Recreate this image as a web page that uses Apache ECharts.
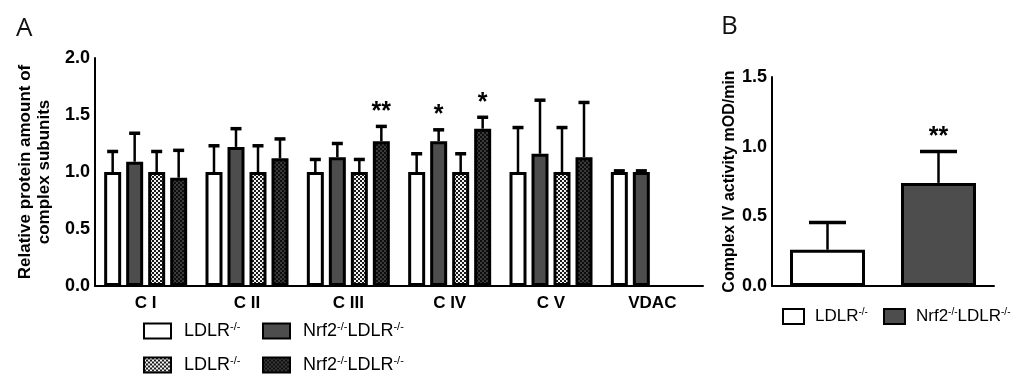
<!DOCTYPE html>
<html><head><meta charset="utf-8">
<script src="https://cdn.jsdelivr.net/npm/echarts@6/dist/echarts.min.js"></script>
<style>html,body{margin:0;padding:0;background:#fff}#c{width:1023px;height:383px}</style>
</head><body><div id="c"></div>
<script>
// ---------- data ----------
const categoriesA = ['C I', 'C II', 'C III', 'C IV', 'C V', 'VDAC'];
const ldlrA      = [1.00, 1.00, 1.00, 1.00, 1.00, 1.00];
const ldlrSdA    = [0.18, 0.23, 0.11, 0.16, 0.39, 0.01];
const nrf2A      = [1.09, 1.22, 1.13, 1.27, 1.16, 1.00];
const nrf2SdA    = [0.25, 0.16, 0.12, 0.10, 0.47, 0.01];
const ldlr2A     = [1.00, 1.00, 1.00, 1.00, 1.00, null];
const ldlr2SdA   = [0.18, 0.23, 0.11, 0.16, 0.39, null];
const nrf22A     = [0.95, 1.12, 1.27, 1.38, 1.13, null];
const nrf22SdA   = [0.24, 0.17, 0.13, 0.10, 0.48, null];
const sigA1 = ['', '', '', '', '', ''];
const sigA2 = ['', '', '', '*', '', ''];
const sigA3 = ['', '', '', '', '', ''];
const sigA4 = ['', '', '**', '*', '', ''];
const ticksA = ['0.0', '0.5', '1.0', '1.5', '2.0'];
const yNameA = 'Relative protein amount of\ncomplex subunits';

const categoriesB = ['LDLR-/-', 'Nrf2-/-LDLR-/-'];
const activityB   = [0.26, 0.74];
const activitySdB = [0.195, 0.226];
const sigB = ['', '**'];
const ticksB = ['0.0', '0.5', '1.0', '1.5'];
const yNameB = 'Complex IV activity mOD/min';

const legendLabels = {
  A1: '{n|LDLR}{s|-/-}', A2: '{n|Nrf2}{s|-/-}{n|LDLR}{s|-/-}',
  A3: '{n|LDLR}{s|-/-}', A4: '{n|Nrf2}{s|-/-}{n|LDLR}{s|-/-}',
  B1: '{n|LDLR}{s|-/-}', B2: '{n|Nrf2}{s|-/-}{n|LDLR}{s|-/-}'
};

// ---------- styles ----------
function checker(c1, c2, cell) {
  const cv = document.createElement('canvas');
  cv.width = cell * 2; cv.height = cell * 2;
  const g = cv.getContext('2d');
  g.fillStyle = c2; g.fillRect(0, 0, cell * 2, cell * 2);
  g.fillStyle = c1; g.fillRect(0, 0, cell, cell); g.fillRect(cell, cell, cell, cell);
  return { image: cv, repeat: 'repeat' };
}
const FONT = '"Liberation Sans", Arial, sans-serif';
const fillWhite = '#ffffff';
const fillDark = '#4d4d4d';
const fillCheck = checker('#1a1a1a', '#f2f2f2', 2);
const fillDarkCheck = checker('#0d0d0d', '#3a3a3a', 2);
const BW_A = 17, GAP_A = 5, CAP_A = 11;
const BW_B = 75, CAP_B = 37;

function barItemStyle(color) {
  return { color: color, borderColor: '#000', borderWidth: 3 };
}

function errRender(idx, n, bw, gap, cap, sig) {
  return function (params, api) {
    const ci = api.value(0), m = api.value(1), sd = api.value(2);
    const base = api.coord([ci, m]);
    const top = api.coord([ci, m + sd]);
    const cx = base[0] + (idx - (n - 1) / 2) * (bw + gap);
    const children = [
      { type: 'line', shape: { x1: cx, y1: base[1], x2: cx, y2: top[1] }, style: { stroke: '#000', lineWidth: 2.5 } },
      { type: 'line', shape: { x1: cx - cap / 2, y1: top[1], x2: cx + cap / 2, y2: top[1] }, style: { stroke: '#000', lineWidth: 3.5 } }
    ];
    const s = sig[ci];
    if (s) {
      children.push({ type: 'text', x: cx, y: top[1] - 2,
        style: { text: s, fontSize: 25, fontWeight: 'bold', fontFamily: FONT, align: 'center', verticalAlign: 'bottom', fill: '#000' } });
    }
    return { type: 'group', children: children };
  };
}
function errData(means, sds) {
  const out = [];
  means.forEach((m, i) => { if (m !== null && sds[i] !== null) out.push([i, m, sds[i]]); });
  return out;
}

const axisCommon = {
  axisLine: { lineStyle: { color: '#000', width: 2 } },
  axisTick: { length: 5, lineStyle: { color: '#000', width: 2 } },
  splitLine: { show: false }
};
const labelStyle = { color: '#000', fontWeight: 'bold', fontSize: 18, fontFamily: FONT };
const richLegend = (fs) => ({
  n: { fontSize: fs, fontFamily: FONT, color: '#000' },
  s: { fontSize: Math.round(fs * 0.6), fontFamily: FONT, color: '#000', padding: [0, 0, 9, 0], verticalAlign: 'bottom' }
});
function legendAt(name, left, top, w, h, fs, pad) {
  return {
    data: [name], left: left, top: top, padding: 0, itemWidth: w, itemHeight: h, itemGap: 0,
    icon: 'rect', selectedMode: false,
    formatter: (nm) => legendLabels[nm],
    textStyle: { rich: richLegend(fs), padding: [0, 0, 0, pad] }
  };
}

const chart = echarts.init(document.getElementById('c'), null, { renderer: 'canvas' });
chart.setOption({
  animation: false,
  backgroundColor: '#fff',
  graphic: [
    { type: 'text', left: 16, top: 16, style: { text: 'A', fontSize: 26, fontFamily: '"Open Sans", sans-serif', fill: '#111' } },
    { type: 'text', left: 721, top: 14, style: { text: 'B', fontSize: 26, fontFamily: '"Open Sans", sans-serif', fill: '#111' } }
  ],
  grid: [
    { left: 95, top: 58, width: 608, height: 228 },
    { left: 772, top: 77, width: 222, height: 209 }
  ],
  xAxis: [
    Object.assign({ type: 'category', gridIndex: 0, data: categoriesA,
      axisLabel: Object.assign({ margin: 9 }, labelStyle, { fontSize: 17 }) }, axisCommon,
      { axisTick: { alignWithLabel: true, length: 6, lineStyle: { color: '#000', width: 2 } } }),
    Object.assign({ type: 'category', gridIndex: 1, data: categoriesB, axisLabel: { show: false } }, axisCommon,
      { axisTick: { alignWithLabel: true, length: 6, lineStyle: { color: '#000', width: 2 } } })
  ],
  yAxis: [
    Object.assign({ type: 'value', gridIndex: 0, min: 0, max: 2, interval: 0.5,
      name: yNameA, nameLocation: 'middle', nameRotate: 90, nameGap: 40,
      nameTextStyle: { color: '#000', fontWeight: 'bold', fontSize: 17, fontFamily: FONT, lineHeight: 19 },
      axisLabel: Object.assign({ margin: 5, formatter: (v) => ticksA[Math.round(v / 0.5)] }, labelStyle) }, axisCommon, { axisLine: { show: true, lineStyle: { color: '#000', width: 2 } } }),
    Object.assign({ type: 'value', gridIndex: 1, min: 0, max: 1.5, interval: 0.5,
      name: yNameB, nameLocation: 'middle', nameRotate: 90, nameGap: 29,
      nameTextStyle: { color: '#000', fontWeight: 'bold', fontSize: 16, fontFamily: FONT },
      axisLabel: Object.assign({ margin: 5, formatter: (v) => ticksB[Math.round(v / 0.5)] }, labelStyle) }, axisCommon, { axisLine: { show: true, lineStyle: { color: '#000', width: 2 } } })
  ],
  legend: [
    legendAt('A1', 143, 321, 27, 15, 18, 8),
    legendAt('A2', 262, 321, 27, 15, 18, 8),
    legendAt('A3', 143, 355, 27, 15, 18, 8),
    legendAt('A4', 262, 355, 27, 15, 18, 8),
    legendAt('B1', 782, 307, 21, 15, 17, 6),
    legendAt('B2', 883, 307, 21, 15, 17, 6)
  ],
  series: [
    { name: 'A1', type: 'bar', xAxisIndex: 0, yAxisIndex: 0, data: ldlrA, barWidth: BW_A, barGap: (GAP_A / BW_A * 100) + '%', itemStyle: barItemStyle(fillWhite) },
    { name: 'A2', type: 'bar', xAxisIndex: 0, yAxisIndex: 0, data: nrf2A, barWidth: BW_A, itemStyle: barItemStyle(fillDark) },
    { name: 'A3', type: 'bar', xAxisIndex: 0, yAxisIndex: 0, data: ldlr2A, barWidth: BW_A, itemStyle: barItemStyle(fillCheck) },
    { name: 'A4', type: 'bar', xAxisIndex: 0, yAxisIndex: 0, data: nrf22A, barWidth: BW_A, itemStyle: barItemStyle(fillDarkCheck) },
    { type: 'custom', xAxisIndex: 0, yAxisIndex: 0, z: 5, data: errData(ldlrA, ldlrSdA), renderItem: errRender(0, 4, BW_A, GAP_A, CAP_A, sigA1) },
    { type: 'custom', xAxisIndex: 0, yAxisIndex: 0, z: 5, data: errData(nrf2A, nrf2SdA), renderItem: errRender(1, 4, BW_A, GAP_A, CAP_A, sigA2) },
    { type: 'custom', xAxisIndex: 0, yAxisIndex: 0, z: 5, data: errData(ldlr2A, ldlr2SdA), renderItem: errRender(2, 4, BW_A, GAP_A, CAP_A, sigA3) },
    { type: 'custom', xAxisIndex: 0, yAxisIndex: 0, z: 5, data: errData(nrf22A, nrf22SdA), renderItem: errRender(3, 4, BW_A, GAP_A, CAP_A, sigA4) },
    { name: 'B1', type: 'bar', xAxisIndex: 1, yAxisIndex: 1, data: [activityB[0], null], barWidth: BW_B, barGap: '-100%', itemStyle: barItemStyle(fillWhite) },
    { name: 'B2', type: 'bar', xAxisIndex: 1, yAxisIndex: 1, data: [null, activityB[1]], barWidth: BW_B, barGap: '-100%', itemStyle: barItemStyle(fillDark) },
    { type: 'custom', xAxisIndex: 1, yAxisIndex: 1, z: 5, data: errData(activityB, activitySdB), renderItem: errRender(0, 1, BW_B, 0, CAP_B, sigB) }
  ]
});
</script>
</body></html>
